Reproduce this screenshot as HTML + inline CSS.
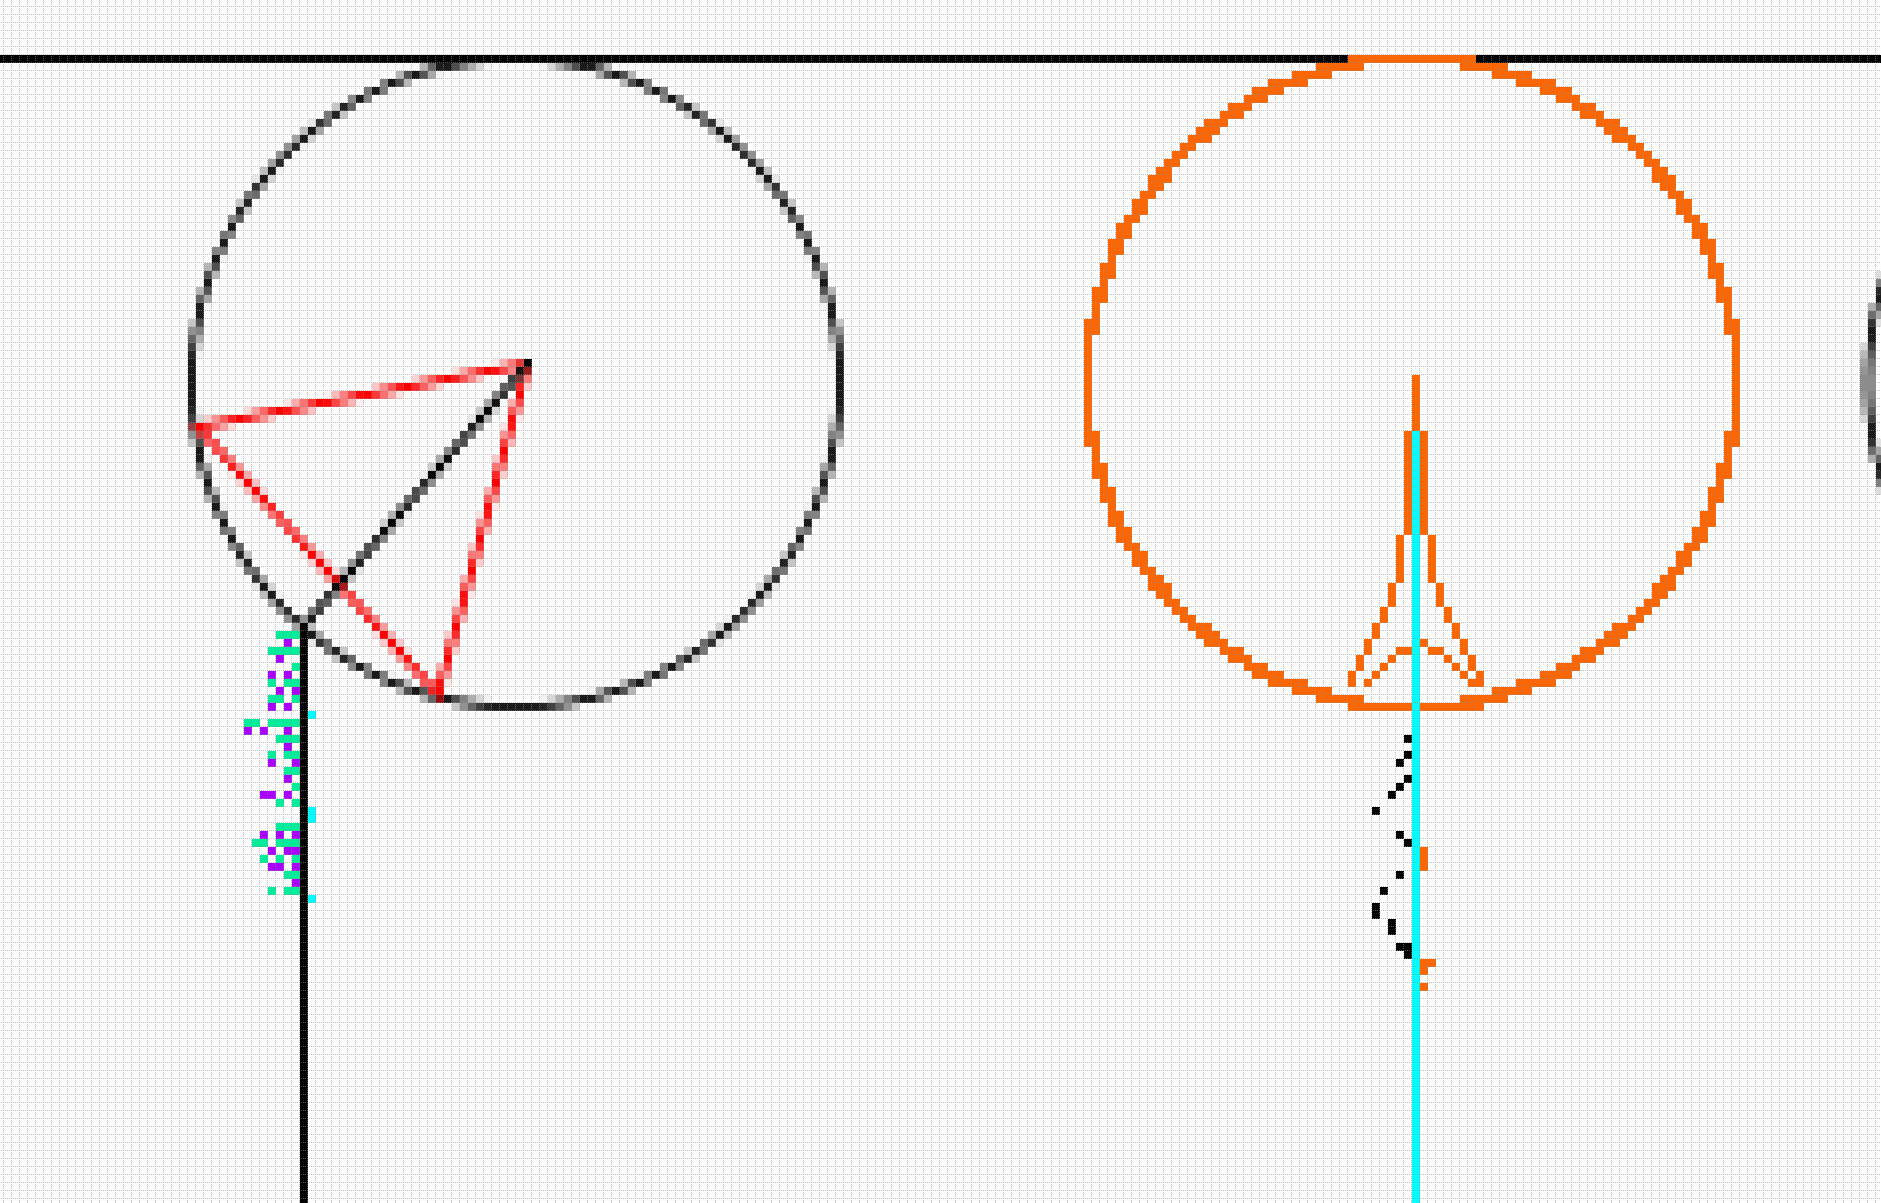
<!DOCTYPE html>
<html><head><meta charset="utf-8"><style>
html,body{margin:0;padding:0;background:#fff;}
svg{display:block;}
</style></head><body>
<svg id="chart" width="1881" height="1203" xmlns="http://www.w3.org/2000/svg">
<defs>
<pattern id="grid" x="3" y="6" width="8" height="8" patternUnits="userSpaceOnUse">
<line x1="0.5" y1="0" x2="0.5" y2="8" stroke="#8c8c8c" stroke-width="1" stroke-dasharray="1,1"/>
<line x1="0" y1="0.5" x2="8" y2="0.5" stroke="#8c8c8c" stroke-width="1" stroke-dasharray="1,1"/>
</pattern>
</defs>
<rect x="0" y="0" width="1881" height="1203" fill="#fff"/>
<g id="cells"></g>
<rect x="0" y="0" width="1881" height="1203" fill="url(#grid)" opacity="0.6"/>
</svg>
<script>
const COLS = 235, ROWS = 150;
const circles = [[64,47,40.5],[273.5,47,40.5]];
const orangeCircle = [176,47,40.6];
const redTri = [[65.5,44.6],[24.25,52.5],[54.25,85.9]];
const blackDiag = [[65.5,44.6],[37.5,77.4]];
const greenDots = [[34,78],[35,78],[36,78],[33,80],[34,80],[35,80],[36,80],[36,82],[33,84],[35,84],[36,84],[33,86],[34,86],[36,86],[30,89],[31,89],[33,89],[34,89],[35,89],[36,89],[34,91],[35,91],[36,91],[33,93],[35,93],[36,93],[35,95],[36,95],[36,97],[34,99],[36,99],[34,102],[35,102],[36,102],[31,104],[32,104],[34,104],[35,104],[36,104],[32,106],[34,106],[36,106],[35,108],[36,108],[33,110],[35,110],[36,110]];
const purpleDots = [[35,79],[34,81],[33,83],[35,83],[34,85],[36,85],[33,87],[35,87],[30,90],[32,90],[35,90],[35,92],[33,94],[36,94],[35,96],[32,98],[33,98],[35,98],[32,103],[34,103],[36,103],[33,105],[35,105],[36,105],[33,107],[34,107],[36,107],[36,109]];
const cyanDots = [[38,88],[38,100],[38,101],[38,111]];
const blackDots = [[175,91],[175,93],[174,94],[175,96],[174,97],[173,98],[171,100],[174,103],[175,104],[174,108],[172,110],[171,112],[171,113],[173,114],[173,115],[174,117],[175,117],[175,118]];
const orangeDots = [[177,105],[177,106],[177,107],[177,119],[178,119],[177,120],[177,122],
 [176,46],[176,47],[176,48],[176,49],[176,50],[176,51],[176,52],
 [174,80],[175,80],[173,81],[172,82],[171,83],[170,84],[177,79],[178,80],[179,80],[180,81],[181,82],[182,83],[183,84]];
const orangeRails = [[175,177,53,65],[174,178,66,71],[173,179,72,74],[172,180,75,76],[171,181,77,78],[170,182,79,80],[169,183,81,82],[168,184,83,84]];

const g = document.getElementById('cells');
const NS = 'http://www.w3.org/2000/svg';
function cell(i,j,color,op,name){
  const r = document.createElementNS(NS,'rect');
  r.setAttribute('x', 4+8*i); r.setAttribute('y', 7+8*j);
  r.setAttribute('width', 8); r.setAttribute('height', 8);
  r.setAttribute('fill', color);
  if (op < 1) r.setAttribute('fill-opacity', op.toFixed(2));
  
  
  g.appendChild(r);
}
function segDist(px,py,a,b){
  const dx=b[0]-a[0], dy=b[1]-a[1];
  let t=((px-a[0])*dx+(py-a[1])*dy)/(dx*dx+dy*dy);
  t=Math.max(0,Math.min(1,t));
  const x=a[0]+t*dx, y=a[1]+t*dy;
  return Math.hypot(px-x,py-y);
}
for(let i=-1;i<COLS;i++) cell(i,6,'#000',1,'top-line');
circles.forEach(c=>{
  for(let i=-1;i<COLS;i++)for(let j=7;j<ROWS;j++){
    const d=Math.hypot(i+0.5-c[0],j+0.5-c[1]);
    const a=Math.min(1,Math.max(0,1.15-Math.abs(d-c[2])*1.3));
    if(a>0.05) cell(i,j,'#1a1a1a',a,'gray-circle');
  }
});
for(let k=0;k<3;k++){
  const a=redTri[k], b=redTri[(k+1)%3];
  for(let i=Math.floor(Math.min(a[0],b[0]))-2;i<=Math.max(a[0],b[0])+2;i++)
  for(let j=Math.floor(Math.min(a[1],b[1]))-2;j<=Math.max(a[1],b[1])+2;j++){
    const d=segDist(i+0.5,j+0.5,a,b);
    const al=Math.min(1,Math.max(0,1.1-d*1.2));
    if(al>0.05) cell(i,j,'#ff0000',al,'red-triangle-edge');
  }
}
{
  const a=blackDiag[0], b=blackDiag[1];
  for(let i=Math.floor(b[0])-2;i<=a[0]+2;i++)
  for(let j=Math.floor(a[1])-2;j<=b[1]+2;j++){
    const d=segDist(i+0.5,j+0.5,a,b);
    const al=Math.min(1,Math.max(0,1.1-d*1.2));
    if(al>0.05) cell(i,j,'#000',al,'black-diagonal');
  }
}
for(let j=77;j<ROWS;j++) cell(37,j,'#000',1,'black-vertical-line');
{
  const c=orangeCircle;
  for(let i=120;i<235;i++)for(let j=5;j<ROWS;j++){
    const ds=[[i,j],[i+1,j],[i,j+1],[i+1,j+1]].map(p=>Math.hypot(p[0]-c[0],p[1]-c[1]));
    if(Math.min(...ds)<c[2]+0.15 && Math.max(...ds)>c[2]-0.15) cell(i,j,'#ff6600',1,'orange-circle');
  }
}
orangeRails.forEach(r=>{for(let j=r[2];j<=r[3];j++){cell(r[0],j,'#ff6600',1,'orange-rail');cell(r[1],j,'#ff6600',1,'orange-rail');}});
for(let i=168;i<=184;i++) cell(i,87,'#ff6600',1,'orange-base');
orangeDots.forEach(p=>cell(p[0],p[1],'#ff6600',1,'orange-dot'));
for(let j=53;j<ROWS;j++) cell(176,j,'#00ffff',1,'cyan-vertical-line');
greenDots.forEach(p=>cell(p[0],p[1],'#00ee99',1,'green-dot'));
purpleDots.forEach(p=>cell(p[0],p[1],'#aa00ff',1,'purple-dot'));
cyanDots.forEach(p=>cell(p[0],p[1],'#00ffff',1,'cyan-dot'));
blackDots.forEach(p=>cell(p[0],p[1],'#000',1,'black-dot'));
</script>
</body></html>
